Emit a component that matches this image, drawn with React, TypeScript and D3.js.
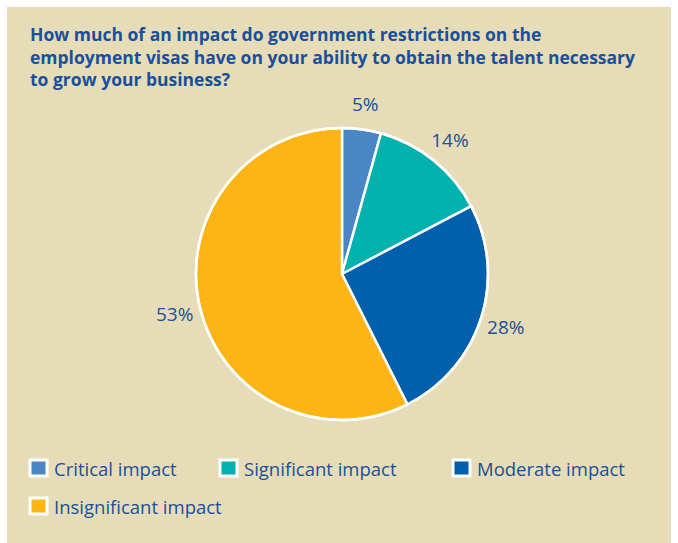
import React from "react";
import * as d3 from "d3";

const categories = ["Critical impact", "Significant impact", "Moderate impact", "Insignificant impact"];
const values = [4.3, 13.0, 25.3, 57.4];
const labels = ["5%", "14%", "28%", "53%"];
const colors = ["#4a86c5", "#00b2ae", "#0060ad", "#fdb515"];
const titleLines = [
  "How much of an impact do government restrictions on the",
  "employment visas have on your ability to obtain the talent necessary",
  "to grow your business?",
];

const W = 678;
const H = 543;
const FONT = "'Open Sans', 'Noto Sans', sans-serif";
const TEXT = "#1a4f9b";

export default function App() {
  const cx = 342;
  const cy = 274;
  const r = 146;
  const pie = d3.pie<number>().sort(null).value((d) => d);
  const arcs = pie(values);
  const arc = d3.arc<d3.PieArcDatum<number>>().innerRadius(0).outerRadius(r);
  const labelArc = d3.arc<d3.PieArcDatum<number>>().innerRadius(172).outerRadius(172);

  const legendCols = [30, 220, 453];
  const legendRows = [468, 506];

  return (
    <svg width={W} height={H} style={{ position: "absolute", left: 0, top: 0 }}>
      <rect x={0} y={0} width={W} height={H} fill="#ffffff" />
      <rect x={7} y={7} width={664} height={536} fill="#e6ddb8" />
      <g fontFamily={FONT} fontWeight="bold" fontSize={17.5} fill={TEXT}>
        {titleLines.map((t, i) => (
          <text key={i} x={30} y={41 + i * 22.5}>
            {t}
          </text>
        ))}
      </g>
      <g transform={`translate(${cx},${cy})`}>
        {arcs.map((a, i) => (
          <path key={i} d={arc(a) || ""} fill={colors[i]} stroke="#ffffff" strokeWidth={2.5} strokeLinejoin="round" />
        ))}
        <circle r={r} fill="none" stroke="#ffffff" strokeWidth={2.5} />
        {arcs.map((a, i) => {
          const [x, y] = labelArc.centroid(a);
          return (
            <text
              key={i}
              x={x}
              y={y}
              textAnchor="middle"
              dominantBaseline="central"
              fontFamily={FONT}
              fontSize={19}
              fill={TEXT}
            >
              {labels[i]}
            </text>
          );
        })}
      </g>
      <g fontFamily={FONT} fontSize={18.5} fill={TEXT}>
        {categories.map((c, i) => {
          const x = legendCols[i % 3];
          const y = legendRows[Math.floor(i / 3)];
          return (
            <g key={c} transform={`translate(${x},${y})`}>
              <rect x={0} y={-8} width={17} height={16} fill={colors[i]} stroke="#ffffff" strokeWidth={3} />
              <text x={24} y={0} dominantBaseline="central">
                {c}
              </text>
            </g>
          );
        })}
      </g>
    </svg>
  );
}
